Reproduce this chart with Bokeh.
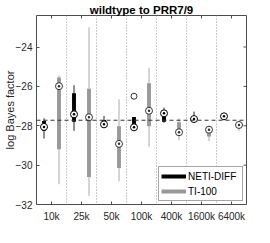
import numpy as np
from bokeh.plotting import figure
from bokeh.models import (Span, Legend, LegendItem, FixedTicker,
                          Range1d, ColumnDataSource)
from bokeh.embed import file_html
from bokeh.resources import INLINE

# ---------------- data ----------------
groups = ["10k", "25k", "50k", "100k", "400k", "1600k", "6400k"]

# NETI-DIFF (black)
neti_whisker_low = [-28.65, -28.26, -28.10, -28.21, -27.85, -27.76, -27.55]
neti_q1          = [-28.27, -27.80, -27.98, -28.00, -27.80, -27.72, -27.53]
neti_median      = [-28.06, -27.42, -27.93, -28.08, -27.37, -27.66, -27.52]
neti_q3          = [-27.76, -26.35, -27.71, -27.56, -27.42, -27.60, -27.50]
neti_whisker_high = [-27.62, -25.94, -27.50, -27.56, -27.08, -27.28, -27.48]
neti_outlier_group = ["100k"]
neti_outlier_value = [-26.50]

# TI-100 (gray)
ti_whisker_low = [-30.97, -31.56, -30.82, -29.07, -28.74, -28.78, -28.27]
ti_q1          = [-29.19, -30.60, -30.15, -28.03, -28.32, -28.54, -28.00]
ti_median      = [-25.99, -27.57, -28.92, -27.24, -28.33, -28.20, -27.96]
ti_q3          = [-25.55, -26.12, -28.02, -25.84, -27.82, -28.18, -27.92]
ti_whisker_high = [-25.44, -23.00, -26.65, -25.07, -27.62, -28.00, -27.88]

reference_level = -27.72

y_ticks = [-32, -30, -28, -26, -24]
y_limits = (-32.0, -22.4)

title_text = "wildtype to PRR7/9"
y_label_text = "log Bayes factor"
series_names = ["NETI-DIFF", "TI-100"]

# ---------------- layout / style ----------------
FONT = "Liberation Sans"
TEXT = "#262626"
AX = "#4d4d4d"
BLACK = "#000000"
GRAY = "#999999"
GRAY_WHISKER = "#aaaaaa"
offset = 0.25
box_w = 0.13
FW, FH = 210, 189

pos = np.arange(1, len(groups) + 1)
x_limits = (0.5, len(groups) + 0.5)
x_per_px = (x_limits[1] - x_limits[0]) / FW
y_per_px = (y_limits[1] - y_limits[0]) / FH

p = figure(frame_width=FW, frame_height=FH,
           x_range=Range1d(*x_limits), y_range=Range1d(*y_limits),
           output_backend="svg", toolbar_location=None,
           min_border_left=36, min_border_right=16,
           min_border_top=15, min_border_bottom=30,
           title=title_text)
p.title.text_font = FONT
p.title.text_font_size = "11.5px"
p.title.text_font_style = "bold"
p.title.text_color = BLACK
p.title.align = "center"
p.title.standoff = 0
p.title.offset = 0
p.xgrid.visible = False
p.ygrid.visible = False
p.outline_line_color = AX
p.outline_line_width = 1
p.background_fill_color = "white"
p.border_fill_color = "white"

def style_axis(ax):
    ax.axis_line_color = None
    ax.major_tick_in = 3
    ax.major_tick_out = 0
    ax.major_tick_line_color = AX
    ax.minor_tick_line_color = None
    ax.major_label_text_font = FONT
    ax.major_label_text_color = TEXT
    ax.major_label_text_font_size = "10px"

p.xaxis.ticker = FixedTicker(ticks=list(pos))
p.xaxis.major_label_overrides = {int(i): g for i, g in zip(pos, groups)}
style_axis(p.xaxis[0])
p.xaxis.major_label_standoff = 6
p.yaxis.ticker = FixedTicker(ticks=y_ticks)
style_axis(p.yaxis[0])
p.yaxis.major_label_standoff = 4
p.yaxis.axis_label = y_label_text
p.yaxis.axis_label_text_font = FONT
p.yaxis.axis_label_text_font_size = "11px"
p.yaxis.axis_label_text_font_style = "normal"
p.yaxis.axis_label_text_color = TEXT
p.yaxis.axis_label_standoff = -3

# mirrored inward ticks on top and right edges
tick_len = 3
p.segment(x0=list(pos), y0=[y_limits[1]] * len(pos), x1=list(pos),
          y1=[y_limits[1] - tick_len * y_per_px] * len(pos),
          line_color=AX, line_width=1)
p.segment(x0=[x_limits[1]] * len(y_ticks), y0=y_ticks,
          x1=[x_limits[1] - tick_len * x_per_px] * len(y_ticks), y1=y_ticks,
          line_color=AX, line_width=1)

# separators between groups
for s in (pos[:-1] + 0.5):
    p.add_layout(Span(location=float(s), dimension="height", line_color="#9a9a9a",
                      line_width=1, line_dash="1 2", level="underlay"))

def draw_series(xs, lo, q1, med, q3, hi, box_color, whisk_color, ring_color):
    src = ColumnDataSource(dict(x=xs, lo=lo, q1=q1, med=med, q3=q3, hi=hi))
    p.segment(x0="x", y0="lo", x1="x", y1="hi", source=src,
              line_color=whisk_color, line_width=1)
    p.vbar(x="x", bottom="q1", top="q3", width=box_w, source=src,
           fill_color=box_color, line_color=None)
    p.scatter(x="x", y="med", source=src, marker="circle", size=7,
              fill_color="white", line_color=ring_color, line_width=1)
    p.scatter(x="x", y="med", source=src, marker="circle", size=2.5,
              fill_color=ring_color, line_color=None)

draw_series(pos - offset, neti_whisker_low, neti_q1, neti_median, neti_q3,
            neti_whisker_high, BLACK, "#222222", BLACK)
draw_series(pos + offset, ti_whisker_low, ti_q1, ti_median, ti_q3,
            ti_whisker_high, GRAY, GRAY_WHISKER, "#333333")

# outlier
out_x = [groups.index(g) + 1 - offset for g in neti_outlier_group]
p.scatter(x=out_x, y=neti_outlier_value, marker="circle", size=6,
          fill_color="white", line_color="#333333", line_width=1)

# reference dashed line
p.add_layout(Span(location=reference_level, dimension="width",
                  line_color="#333333", line_width=1, line_dash="4 3"))

# legend (proxy renderers with no visible points)
r1 = p.line(x=[np.nan], y=[np.nan], line_color=BLACK, line_width=4)
r2 = p.line(x=[np.nan], y=[np.nan], line_color=GRAY, line_width=4)
legend = Legend(items=[LegendItem(label=series_names[0], renderers=[r1]),
                       LegendItem(label=series_names[1], renderers=[r2])],
                location="bottom_right", margin=3, padding=2, spacing=1,
                glyph_width=25, glyph_height=14, label_height=14,
                label_width=52, label_standoff=2,
                label_text_font=FONT, label_text_font_size="10px",
                label_text_color=BLACK, border_line_color=AX,
                border_line_width=1, background_fill_color="white",
                background_fill_alpha=1.0)
p.add_layout(legend)

open("out.html", "w").write(file_html(p, INLINE))
